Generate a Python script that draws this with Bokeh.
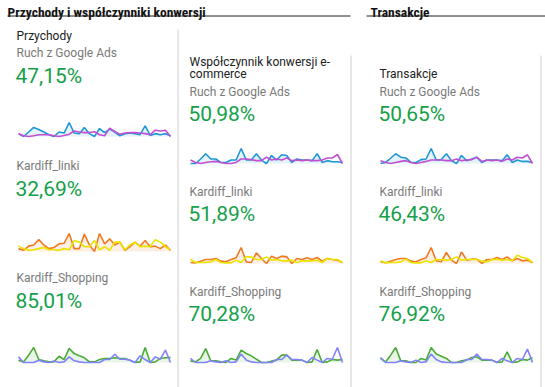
from bokeh.plotting import figure
from bokeh.models import Range1d, ColumnDataSource
from bokeh.core.properties import value
from bokeh.embed import file_html
from bokeh.resources import INLINE

W, H = 545, 387

# ---------------- data ----------------
section_titles = ["Przychody i współczynniki konwersji", "Transakcje"]
metric_titles = ["Przychody", "Współczynnik konwersji e-\ncommerce", "Transakcje"]
segments = ["Ruch z Google Ads", "Kardiff_linki", "Kardiff_Shopping"]

revenue_share = ["47,15%", "32,69%", "85,01%"]
conv_rate_share = ["50,98%", "51,89%", "70,28%"]
transactions_share = ["50,65%", "46,43%", "76,92%"]

days = list(range(31))

# Przychody (revenue) sparklines: segment series vs comparison series
rev_ads = [1.9, 0, 3, 6, 4.6, 3, 1.2, 0, 3, 2.3, 9.3, 2.3, 1.9, 6, 1.9, 0, 5.3, 2.6, 4.9, 3, 0.5, 1.9, 2.3, 1.9, 1.2, 7, 0.7, 1.9, 1.2, 1.9, 0.5]
rev_ads_cmp = [1.9, 0.5, 0, 0.5, 1.2, 1.2, 1.2, 0.5, 0, 0.7, 1.5, 3.7, 3, 2.6, 2.6, 3.2, 1.2, 0.5, 5.6, 3.3, 1.5, 2.3, 2.6, 2.6, 2.3, 1.9, 1.2, 4.2, 3.7, 4.2, 0]
rev_linki = [1.5, 0.6, 2.8, 3.4, 6.2, 3.4, 1.5, 2.1, 4, 4.3, 9.4, 1.5, 1.5, 9.1, 3.4, 0, 9.4, 4, 6.6, 3.4, 4.9, 0.6, 2.5, 4.9, 2.8, 5.7, 2.5, 2.8, 1.5, 3.4, 0.6]
rev_linki_cmp = [2.8, 1.5, 0.6, 0.9, 1.5, 2.1, 0.9, 0.9, 0.6, 1.5, 0.9, 5.7, 4.9, 2.5, 2.5, 5.7, 0.9, 2.5, 0.6, 4.9, 4.9, 0.9, 3.4, 4.9, 2.5, 2.8, 2.5, 6.2, 4.9, 2.5, 0.9]
rev_shop = [1.5, 0.4, 4.7, 9.6, 1.9, 1.1, 0.4, 0.4, 4, 1.9, 9, 5.7, 4.3, 3, 0.4, 0.4, 1.9, 2.6, 2.6, 3, 2.6, 2.6, 1.5, 0, 0.4, 9.6, 0, 0.4, 2.6, 3, 3.2]
rev_shop_cmp = [3.6, 0, 0, 0, 1.5, 0.4, 0, 0.9, 0, 0.4, 3.6, 1.1, 0.4, 0, 0, 0, 0, 1.9, 1.9, 5.3, 2.1, 2.1, 1.5, 0, 4.3, 1.9, 0, 3.6, 2.1, 7.9, 0]

# Współczynnik konwersji e-commerce sparklines
conv_ads = [0, 0, 3, 6.5, 3, 3, 0.7, 0.7, 2.3, 2.3, 10, 2.3, 2.3, 6.5, 2.3, 0, 5.3, 2.3, 5.8, 5.3, 0.7, 3, 2.3, 2.3, 1.9, 6.5, 0.7, 1.9, 1.2, 1.2, 0.7]
conv_ads_cmp = [2.3, 0.7, 0, 0.7, 1.2, 1.4, 0.7, 0, 0, 0.7, 3, 3, 2.6, 1.9, 1.9, 4.2, 2.3, 3, 2.3, 3.7, 1.9, 2.3, 1.9, 2.3, 1.9, 1.9, 2.3, 3.7, 3.7, 6, 0]
conv_linki = [0.6, 0.4, 1.4, 2.4, 2.4, 3, 1.4, 1, 2.4, 3.4, 9.6, 1, 0.6, 6.4, 3, 0, 4.4, 3, 4.4, 4, 0, 3, 2.4, 3.4, 2.4, 3.6, 1.4, 3, 2.4, 2, 0.4]
conv_linki_cmp = [2.4, 0.6, 0.6, 0.6, 1, 2.4, 0.6, 0.4, 0.4, 2, 0.6, 4, 4, 2.4, 2.4, 4, 2, 2.4, 1.6, 1.6, 2, 0.6, 1.6, 1.6, 1.6, 2, 0.6, 3, 2.4, 2.4, 0.6]
conv_shop = [1.1, 0.4, 2.7, 9.3, 1.1, 1.1, 0.4, 0, 2.7, 1.6, 8.2, 6, 4.4, 2.2, 0, 0, 0.9, 1.6, 4.9, 4.9, 1.6, 1.6, 1.6, 0, 0.4, 8.7, 0, 0.4, 2, 1.6, 2]
conv_shop_cmp = [2.7, 0, 0, 0, 1.1, 0.4, 0, 1.1, 0, 0.4, 5.6, 1.6, 0.4, 0, 0, 0, 0, 2, 2, 4.9, 2, 2, 1.6, 0, 3.3, 1.6, 0, 2.7, 2.2, 10, 0]

# Transakcje sparklines
trans_ads = [0, 0.7, 3.5, 6.5, 4.2, 3.7, 0.7, 0.7, 2.6, 3, 10, 2.3, 2.6, 6.5, 1.9, 0, 5.3, 1.9, 3, 4.2, 0.7, 2.3, 2.3, 2.3, 1.9, 5.8, 0.7, 2.3, 1.4, 1.4, 0.7]
trans_ads_cmp = [1.9, 0.7, 0, 0.7, 1.4, 1.9, 0.7, 0, 0.7, 1.4, 2.3, 2.3, 2.3, 1.9, 1.9, 3, 1.9, 2.3, 2.6, 4.2, 1.4, 2.3, 1.9, 2.3, 1.4, 3, 2.3, 4.2, 3.7, 5.8, 0]
trans_linki = [1, 0.4, 1.4, 2.4, 3, 3, 1.4, 1, 2.4, 3.4, 9.6, 1.6, 1, 6.6, 2, 0, 7, 2, 2.6, 2.6, 0, 2.4, 2.4, 3.6, 2.4, 4, 1.6, 3, 1.6, 2, 0.4]
trans_linki_cmp = [1.6, 0.4, 0.6, 0.6, 1, 2.6, 0.6, 0.4, 0.4, 1.6, 0.6, 2.4, 2.4, 2, 2.4, 4, 2, 2.4, 2.4, 2.6, 1.4, 1, 2.4, 2.6, 2, 2.4, 1.6, 5, 3.6, 3, 0.6]
trans_shop = [2.7, 0.4, 4.9, 10, 1.1, 1.1, 0, 0, 2.7, 1.6, 10, 5.6, 4.2, 2.7, 0, 0, 1.1, 1.6, 3.3, 3.8, 1.6, 1.6, 1.6, 0, 0.4, 7.1, 0, 0.4, 2, 1.6, 3.3]
trans_shop_cmp = [3.3, 0, 0, 0, 1.1, 0.4, 0, 1.6, 0, 0.4, 5.6, 2, 0.4, 0, 0, 0, 0, 2, 2, 5.6, 2, 2, 1.6, 0, 2.7, 1.1, 0, 2.7, 2, 8.9, 0]

# ---------------- styles ----------------
FONT = value("Roboto")
HEAD_FONT = value("Liberation Sans Narrow, Roboto Condensed, Roboto")
GREEN = "#15a04a"
GREY = "#7a7a7a"
DARK = "#212121"
SEG_COLORS = [("#1f97d4", "#c24fd4"), ("#f07a24", "#e9e400"), ("#4aac36", "#8282ff")]
DY = -4  # text baseline correction

p = figure(width=W, height=H, x_range=Range1d(0, W), y_range=Range1d(H, 0),
           x_axis_type=None, y_axis_type=None, tools="", toolbar_location=None,
           output_backend="svg", min_border=0)
p.outline_line_color = None
p.background_fill_color = "white"
p.border_fill_color = "white"

# section headers with underlines
p.text(x=[7, 370], y=[11.5, 11.5], text=section_titles, text_font=HEAD_FONT,
       text_font_size="13.5px", text_font_style="bold", text_color="#111111",
       text_baseline="alphabetic")
p.segment(x0=[7, 366], y0=[15.5, 15.5], x1=[350, 545], y1=[15.5, 15.5],
          line_color="#222222", line_width=1)

# vertical separators
p.segment(x0=[177.5, 350.5, 540.5], y0=[29, 55, 55], x1=[177.5, 350.5, 540.5],
          y1=[387, 387, 387], line_color="#d0d0d0", line_width=1)

# column layout
cols = [
    dict(x=16, title_y=[39], title=["Przychody"], seg_y=[56.5, 169, 281],
         val_y=[79, 192, 304], values=revenue_share, sx=(18, 170),
         sy=[(136, 122), (251, 233), (362, 347)],
         series=[(rev_ads, rev_ads_cmp), (rev_linki, rev_linki_cmp), (rev_shop, rev_shop_cmp)]),
    dict(x=189, title_y=[65, 77.5], title=["Współczynnik konwersji e-", "commerce"],
         seg_y=[95, 195, 295], val_y=[117.5, 217.5, 317.5], values=conv_rate_share,
         sx=(190, 342), sy=[(163, 148), (263, 247), (362, 347)],
         series=[(conv_ads, conv_ads_cmp), (conv_linki, conv_linki_cmp), (conv_shop, conv_shop_cmp)]),
    dict(x=379, title_y=[77.5], title=["Transakcje"], seg_y=[95, 195, 295],
         val_y=[117.5, 217.5, 317.5], values=transactions_share, sx=(380, 532),
         sy=[(163, 148), (263, 247), (362, 347)],
         series=[(trans_ads, trans_ads_cmp), (trans_linki, trans_linki_cmp), (trans_shop, trans_shop_cmp)]),
]

for ci, c in enumerate(cols):
    p.text(x=[c["x"]] * len(c["title"]), y=[v + DY for v in c["title_y"]], text=c["title"],
           text_font=FONT, text_font_size="12px", text_color=DARK, text_baseline="alphabetic")
    p.text(x=[c["x"]] * 3, y=[v + DY for v in c["seg_y"]], text=segments, text_font=FONT,
           text_font_size="12px", text_color=GREY, text_baseline="alphabetic")
    p.text(x=[c["x"] - 1] * 3, y=[v + DY for v in c["val_y"]], text=c["values"], text_font=FONT,
           text_font_size="21px", text_color=GREEN, text_baseline="alphabetic")

    x0, x1 = c["sx"]
    for si, (main, cmp_) in enumerate(c["series"]):
        base, top = c["sy"][si]
        n = len(main)
        kx = (x1 - x0) / (n - 1)
        xa = -x0 / kx
        vmax = max(max(main), max(cmp_))
        ky = (base - top) / vmax
        yb = base / ky
        ya = yb - H / ky
        xr, yr = f"sx{ci}{si}", f"sy{ci}{si}"
        p.extra_x_ranges[xr] = Range1d(xa, xa + W / kx)
        p.extra_y_ranges[yr] = Range1d(ya, yb)
        src = ColumnDataSource(dict(day=days[:n], main=main, cmp=cmp_, zero=[0] * n))
        c_main, c_cmp = SEG_COLORS[si]
        p.varea(x="day", y1="zero", y2="main", source=src, fill_color=c_main,
                fill_alpha=0.12, x_range_name=xr, y_range_name=yr)
        p.line(x="day", y="main", source=src, line_color=c_main, line_width=1.6,
               x_range_name=xr, y_range_name=yr)
        p.line(x="day", y="cmp", source=src, line_color=c_cmp, line_width=1.6,
               x_range_name=xr, y_range_name=yr)

open("out.html", "w").write(file_html(p, INLINE))
